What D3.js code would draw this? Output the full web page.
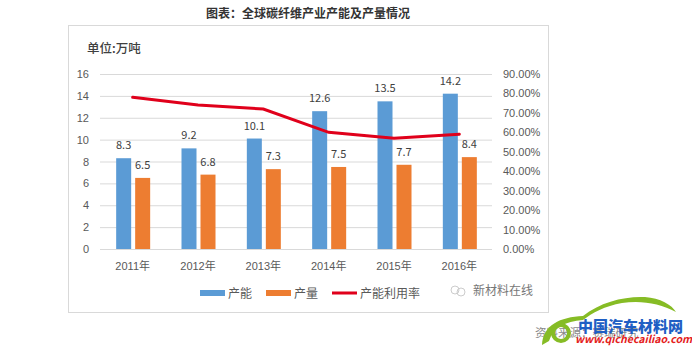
<!DOCTYPE html>
<html>
<head>
<meta charset="utf-8">
<script src="https://cdn.jsdelivr.net/npm/d3@7"></script>
<style>
  html, body { margin: 0; padding: 0; background: #fff; }
  svg { display: block; }
  text { font-family: "Noto Sans CJK SC", "Liberation Sans", sans-serif; }
  .axis text { font-family: "Liberation Sans", "Noto Sans CJK SC", sans-serif; font-size: 11px; fill: #595959; }
</style>
</head>
<body>
<svg id="chart" width="692" height="351"></svg>
<script>
var years = ["2011年", "2012年", "2013年", "2014年", "2015年", "2016年"];
var capacity = [8.3, 9.2, 10.1, 12.6, 13.5, 14.2];
var output = [6.5, 6.8, 7.3, 7.5, 7.7, 8.4];
var utilization = [78, 74, 72, 60, 57, 59];
var leftTicks = [0, 2, 4, 6, 8, 10, 12, 14, 16];
var rightTicks = [0, 10, 20, 30, 40, 50, 60, 70, 80, 90];
var legendItems = ["产能", "产量", "产能利用率"];

var blue = "#5b9bd5", orange = "#ed7d31", red = "#e0001b";

var margin = {top: 74, right: 200, bottom: 102, left: 100};
var width = 692 - margin.left - margin.right,
    height = 351 - margin.top - margin.bottom;

var svg = d3.select("#chart");

svg.append("text")
  .attr("x", 308).attr("y", 18)
  .attr("text-anchor", "middle")
  .attr("font-size", 12).attr("font-weight", 700)
  .attr("fill", "#333")
  .text("图表：全球碳纤维产业产能及产量情况");

// outer frame
svg.append("rect")
  .attr("x", 68.5).attr("y", 25.5)
  .attr("width", 480).attr("height", 287)
  .attr("fill", "#fff").attr("stroke", "#d9d9d9");

svg.append("text")
  .attr("x", 87).attr("y", 53)
  .attr("font-size", 12.5).attr("font-weight", 500)
  .attr("fill", "#404040")
  .text("单位:万吨");

var g = svg.append("g").attr("transform", "translate(" + margin.left + "," + margin.top + ")");

var x = d3.scaleBand().domain(years).range([0, width]);
var y = d3.scaleLinear().domain([0, 16]).range([height, 0]);
var yRate = d3.scaleLinear().domain([0, 90]).range([height, 0]);

// gridlines
g.selectAll(".grid").data(leftTicks).enter().append("line")
  .attr("class", "grid")
  .attr("x1", 0).attr("x2", width)
  .attr("y1", function(d) { return y(d) + 0.5; })
  .attr("y2", function(d) { return y(d) + 0.5; })
  .attr("stroke", "#d9d9d9");

var xAxis = g.append("g").attr("class", "axis")
  .attr("transform", "translate(0," + height + ")")
  .call(d3.axisBottom(x).tickSize(0).tickPadding(13));
xAxis.select(".domain").remove();

var leftAxis = g.append("g").attr("class", "axis")
  .call(d3.axisLeft(y).tickValues(leftTicks).tickSize(0).tickPadding(11));
leftAxis.select(".domain").remove();

var rightAxis = g.append("g").attr("class", "axis")
  .attr("transform", "translate(" + width + ",0)")
  .call(d3.axisRight(yRate).tickValues(rightTicks).tickSize(0).tickPadding(11)
    .tickFormat(function(d) { return d3.format(".2f")(d) + "%"; }));
rightAxis.select(".domain").remove();

var barW = 15;

function drawBars(name, values, color, offset) {
  g.selectAll(".bar-" + name).data(values).enter().append("rect")
    .attr("class", "bar-" + name)
    .attr("x", function(d, i) { return x(years[i]) + x.bandwidth() / 2 + offset; })
    .attr("y", function(d) { return y(d); })
    .attr("width", barW)
    .attr("height", function(d) { return height - y(d); })
    .attr("fill", color);
  g.selectAll(".lab-" + name).data(values).enter().append("text")
    .attr("class", "lab-" + name)
    .attr("x", function(d, i) { return x(years[i]) + x.bandwidth() / 2 + offset + barW / 2; })
    .attr("y", function(d) { return y(d) - 9; })
    .attr("text-anchor", "middle")
    .attr("font-family", "Liberation Sans")
    .attr("font-size", 11)
    .attr("fill", "#404040")
    .text(function(d) { return d.toFixed(1); });
}
drawBars("capacity", capacity, blue, -16.5);
drawBars("output", output, orange, 2.5);

var line = d3.line()
  .x(function(d, i) { return x(years[i]) + x.bandwidth() / 2; })
  .y(function(d) { return yRate(d); });

g.append("path")
  .datum(utilization)
  .attr("d", line)
  .attr("fill", "none")
  .attr("stroke", red)
  .attr("stroke-width", 3)
  .attr("stroke-linecap", "round");

// legend
var legendX = [200, 266, 332];
var legend = svg.selectAll(".legend").data(legendItems).enter().append("g")
  .attr("class", "legend")
  .attr("transform", function(d, i) { return "translate(" + legendX[i] + ",293)"; });
legend.append("rect")
  .attr("y", function(d, i) { return i == 2 ? -1.5 : -3; })
  .attr("width", 25)
  .attr("height", function(d, i) { return i == 2 ? 3 : 6; })
  .attr("fill", function(d, i) { return [blue, orange, red][i]; });
legend.append("text")
  .attr("x", 28).attr("y", 4.5)
  .attr("font-size", 12)
  .attr("fill", "#595959")
  .text(function(d) { return d; });

// watermark and source line
svg.append("circle").attr("cx", 455).attr("cy", 290).attr("r", 4).attr("fill", "none").attr("stroke", "#ccc");
svg.append("circle").attr("cx", 461).attr("cy", 292).attr("r", 4).attr("fill", "none").attr("stroke", "#ccc");
svg.append("text")
  .attr("x", 473).attr("y", 295)
  .attr("font-size", 12).attr("fill", "#777")
  .text("新材料在线");
svg.append("text")
  .attr("x", 535).attr("y", 337)
  .attr("font-size", 11.5).attr("fill", "#8a8a8a")
  .text("资料来源：赛瑞研究");

// site logo
var logo = svg.append("g");
logo.append("path")
  .attr("d", "M542 345 C543 325 560 317 583 316 C600 302 625 296 645 297 C660 298 672 305 676 312 C660 303 640 300 622 303 C605 306 592 313 583 320 C565 321 553 328 549 341 Z")
  .attr("fill", "#86bc25");
logo.append("circle")
  .attr("cx", 561).attr("cy", 333).attr("r", 8)
  .attr("fill", "none").attr("stroke", "#86bc25").attr("stroke-width", 4);
logo.append("text")
  .attr("x", 578).attr("y", 332)
  .attr("font-size", 15).attr("font-weight", 900).attr("fill", "#1f5fc4")
  .text("中国汽车材料网");
logo.append("text")
  .attr("x", 575).attr("y", 343)
  .attr("font-family", "Liberation Sans")
  .attr("font-size", 10.5).attr("font-weight", 700).attr("font-style", "italic").attr("fill", "#e4201b")
  .text("www.qichecailiao.com");
</script>
</body>
</html>
